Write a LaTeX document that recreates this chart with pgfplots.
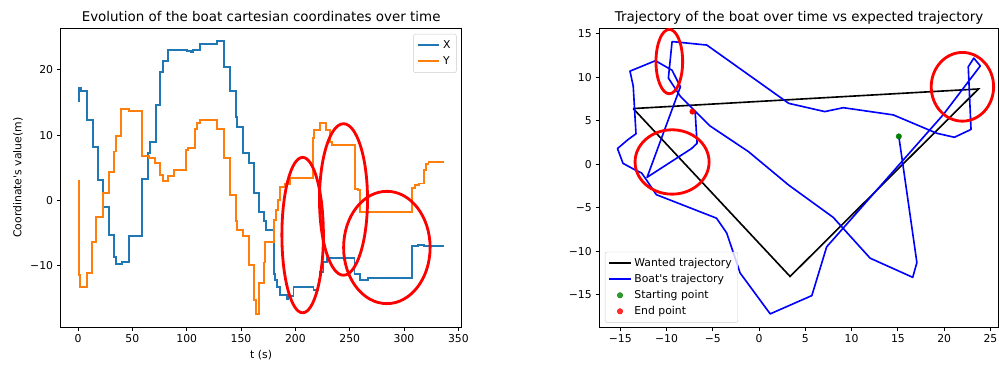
\documentclass[border=0pt]{standalone}
\usepackage{fontspec}
\setmainfont{DejaVu Sans}
\usepackage{pgfplots}
\pgfplotsset{compat=1.18}
\definecolor{mplblue}{HTML}{1F77B4}
\definecolor{mplorange}{HTML}{FF7F0E}
\definecolor{mplgreen}{HTML}{008000}
\pgfplotsset{
 mplstyle/.style={
  scale only axis,
  axis line style={line width=0.8pt},
  tick align=outside, xtick pos=left, ytick pos=left,
  major tick length=3.5pt,
  every tick/.style={line width=0.8pt, black},
  tick label style={font=\fontsize{10}{12}\selectfont},
  label style={font=\fontsize{10}{12}\selectfont},
  /pgf/number format/assume math mode=true,
  every axis title/.style={at={(0.5,1)}, anchor=base, yshift=6pt, font=\fontsize{12.4}{14}\selectfont},
  legend cell align=left,
  legend image code/.code={\draw[mark repeat=2,mark phase=2,##1] plot coordinates {(0pt,0pt) (10pt,0pt) (20pt,0pt)};},
  legend style={draw=black!20, rounded corners=2pt, fill=white, fill opacity=0.8, text opacity=1,
    font=\fontsize{10}{12}\selectfont, inner xsep=3pt, inner ysep=3pt, row sep=0pt,
    nodes={inner sep=2.5pt, text height=7.5pt, text depth=2.3pt}},
 }
}
\begin{document}
\begin{tikzpicture}
\useasboundingbox (0,0) rectangle (919.1bp,335.8bp);
% ---------------- left axis ----------------
\begin{axis}[mplstyle,
  at={(55.8bp,34.7bp)}, anchor=south west,
  width=368.9bp, height=275.1bp,
  xmin=-16, xmax=353, ymin=-19.42, ymax=26.37,
  xtick={0,50,100,150,200,250,300,350},
  xticklabels={0,50,100,150,200,250,300,350},
  ytick={-10,0,10,20},
  yticklabels={−10,0,10,20},
  xlabel={t (s)},
  ylabel={Coordinate\textquotesingle s value(m)},
  title={Evolution of the boat cartesian coordinates over time},
  legend image code/.code={\draw[#1,sharp plot] plot coordinates {(0pt,0pt) (20pt,0pt)};},
  legend style={at={(0.9875,0.981)}, anchor=north east},
]
\addplot[const plot, mark=none, color=mplblue, line width=1.8pt, line join=miter] coordinates {
(0,15.3) (1,17.2) (3,16.8) (8.3,12.3) (13.4,8.2) (18,3.1) (22.6,-1.0) (28.2,-5.3)
(32.8,-8.7) (35.2,-9.8) (40.4,-9.4) (47.2,-5.5) (58.8,3.3) (64,7.2) (65.9,9.0)
(71.7,14.6) (75.7,19.6) (77.8,21.3) (82.8,23.0) (100,22.9) (104,22.7) (106,23.1)
(112,23.9) (127.8,24.4) (134.5,20.5) (140,16.8) (145.3,12.8) (146.5,11.3)
(151.7,7.2) (156.9,5.7) (162.1,1.2) (166.7,-1.7) (170.7,-3.1) (173.2,-4.5)
(179.9,-11.2) (181.5,-12.2) (183,-13.2) (186,-14.5) (192,-15.1) (193.7,-14.6)
(198.3,-13.2) (216.7,-13.7) (221.3,-12.2) (222.8,-10.9) (225.9,-9.4) (229,-8.8)
(254.4,-11.3) (259.6,-12.2) (267,-11.9) (307.7,-7.0) (313,-6.8) (318,-7.0) (337,-7.0)
};
\addlegendentry{X}
\addplot[const plot, mark=none, color=mplorange, line width=1.8pt, line join=miter] coordinates {
(0,3.0) (0.6,-11.4) (2,-13.2) (8.3,-11.1) (12.9,-6.3) (16.8,-2.6) (22.6,1.2)
(28.2,4.3) (33.4,7.5) (35.2,9.8) (39.8,14.0) (46.6,13.7) (58.8,6.8) (65,6.5)
(71,5.7) (75.7,3.9) (77.8,3.0) (83,3.7) (87.9,4.7) (99.6,7.7) (101.5,8.1)
(107.3,11.0) (109.5,11.9) (112.1,12.3) (127.8,11.0) (134.5,6.5) (140,0.9)
(145.3,-3.2) (146.5,-4.5) (151.7,-5.5) (156.9,-9.9) (162.1,-15.2) (163.5,-17.4)
(166.7,-12.7) (170.7,-9.5) (172,-6.3) (180,-3.0) (182,-1.5) (184,0.1) (186,2.1)
(190,2.5) (195.2,3.4) (216.1,9.5) (217.5,10.8) (222.8,11.9) (228,10.8) (232,9.0)
(234,8.5) (255,1.7) (258,1.6) (259.6,-1.7) (307.7,1.9) (310,2.4) (313.7,2.6)
(318,4.7) (320,5.6) (322.5,5.9) (337,5.9)
};
\addlegendentry{Y}
\draw[red, line width=2.6pt] (axis cs:206.7,-5.3) ellipse [x radius=19.1, y radius=11.9];
\draw[red, line width=2.6pt] (axis cs:244.3,0.15) ellipse [x radius=22.1, y radius=11.6];
\draw[red, line width=2.6pt] (axis cs:284.2,-7.2) ellipse [x radius=39.8, y radius=8.6];
\end{axis}
% ---------------- right axis ----------------
\begin{axis}[mplstyle,
  at={(551.4bp,34.7bp)}, anchor=south west,
  width=367.5bp, height=275.1bp,
  xmin=-17.26, xmax=25.9, ymin=-18.74, ymax=15.63,
  xtick={-15,-10,-5,0,5,10,15,20,25},
  xticklabels={−15,−10,−5,0,5,10,15,20,25},
  ytick={-15,-10,-5,0,5,10,15},
  yticklabels={−15,−10,−5,0,5,10,15},
  title={Trajectory of the boat over time vs expected trajectory},
  legend style={at={(0.014,0.015)}, anchor=south west},
]
\addplot[black, mark=none, line width=1.5pt] coordinates {
(-13.6,6.4) (23.7,8.65) (3.35,-12.9) (-13.6,6.4)
};
\addlegendentry{Wanted trajectory}
\addplot[blue, mark=none, line width=1.5pt, line join=round] coordinates {
(15.1,3.2) (17.05,-11.3) (16.6,-13.0) (12.0,-10.8) (8.0,-6.1) (3.2,-2.4)
(-1.15,1.45) (-5.3,4.4) (-8.5,7.8) (-9.8,9.9) (-9.4,14.1) (-5.65,13.7)
(3.2,7.0) (7.1,6.05) (9.1,6.5) (14.5,5.67) (19.2,3.56) (21.1,3.1) (22.9,4.0)
(22.6,11.2) (23.2,12.2) (23.9,11.3) (19.9,5.7) (7.3,-9.5) (5.7,-15.1)
(1.2,-17.2) (-2.05,-12.5) (-3.5,-7.9) (-4.6,-6.2) (-11.1,-3.5) (-12.3,-1.6)
(-12.7,-1.0) (-13.4,-0.65) (-14.7,0.1) (-15.3,1.8) (-14.2,2.8) (-13.3,3.5)
(-13.6,9.0) (-13.95,10.7) (-11.2,11.9) (-9.4,10.8) (-8.5,8.9) (-12.1,-1.5)
(-7.3,1.8) (-6.7,2.4) (-6.9,5.9) (-7.2,6.05)
};
\addlegendentry{Boat\textquotesingle s trajectory}
\addplot[only marks, mark=*, mark size=2.5pt, color=mplgreen] coordinates {(15.1,3.2)};
\addlegendentry{Starting point}
\addplot[only marks, mark=*, mark size=2.5pt, color=red] coordinates {(-7.2,6.05)};
\addlegendentry{End point}
\draw[red, line width=2.6pt] (axis cs:-9.7,11.8) ellipse [x radius=1.44, y radius=3.7];
\draw[red, line width=2.6pt] (axis cs:-9.4,0.26) ellipse [x radius=4.0, y radius=3.7];
\draw[red, line width=2.6pt] (axis cs:21.97,8.9) ellipse [x radius=3.37, y radius=3.95];
\end{axis}
\end{tikzpicture}
\end{document}
